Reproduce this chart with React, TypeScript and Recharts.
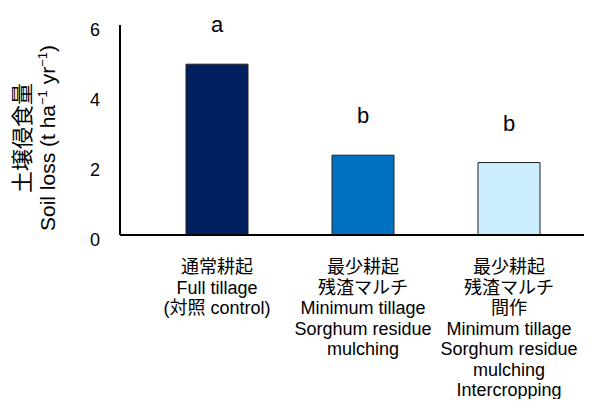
import { BarChart, Bar, XAxis, YAxis, Cell, LabelList } from "recharts";

const categories = ["full", "min", "minInter"];
const categoryLines = [
  ["通常耕起", "Full tillage", "(対照 control)"],
  ["最少耕起", "残渣マルチ", "Minimum tillage", "Sorghum residue", "mulching"],
  ["最少耕起", "残渣マルチ", "間作", "Minimum tillage", "Sorghum residue", "mulching", "Intercropping"],
];
const soilLoss = [4.88, 2.28, 2.07];
const letters = ["a", "b", "b"];
const barColors = ["#002060", "#0070C0", "#CCECFF"];
const yTicks = [0, 2, 4, 6];

const FONT = "'Liberation Sans', Arial, 'Noto Sans CJK JP', sans-serif";

const data = categories.map((c, i) => ({
  key: c,
  value: soilLoss[i],
  letter: letters[i],
}));

function XTick(props: any) {
  const { x, y, index } = props;
  const lines = categoryLines[index] || [];
  return (
    <text x={x} y={y} textAnchor="middle" fontSize={18} fill="#000" fontFamily={FONT}>
      {lines.map((l, i) => (
        <tspan key={i} x={x} y={y + 30 + i * 20.5} fill="#000">
          {l}
        </tspan>
      ))}
    </text>
  );
}

function YTick(props: any) {
  const { y, payload } = props;
  return (
    <text x={100} y={y + 5} dy="0.355em" textAnchor="end" fontSize={18} fill="#000" fontFamily={FONT}>
      {payload.value}
    </text>
  );
}

function YTitle() {
  const cy = 138;
  return (
    <g fontFamily={FONT}>
      <text transform={`translate(30, ${cy}) rotate(-90)`} textAnchor="middle" fontSize={22} fill="#000">
        土壌侵食量
      </text>
      <text transform={`translate(55, ${cy}) rotate(-90)`} textAnchor="middle" fontSize={21} fill="#000">
        <tspan>Soil loss (t ha</tspan>
        <tspan dy={-8} fontSize={13}>−1</tspan>
        <tspan dy={8}> yr</tspan>
        <tspan dy={-8} fontSize={13}>−1</tspan>
        <tspan dy={8}>)</tspan>
      </text>
    </g>
  );
}

function LetterLabel(props: any) {
  const { x, y, width, value } = props;
  return (
    <text x={x + width / 2} y={y - 32} textAnchor="middle" fontSize={22} fill="#000" fontFamily={FONT}>
      {value}
    </text>
  );
}

export default function App() {
  return (
    <div style={{ margin: -8, width: 592, height: 407, background: "#fff" }}>
      <BarChart width={592} height={407} data={data} margin={{ top: 25, right: 2, left: 0, bottom: 0 }}>
        <XAxis
          dataKey="key"
          height={172}
          axisLine={{ stroke: "#000", strokeWidth: 2 }}
          tickLine={false}
          tick={<XTick />}
          interval={0}
          padding={{ left: 24, right: 8 }}
        />
        <YAxis
          width={120}
          domain={[0, 6]}
          ticks={yTicks}
          axisLine={{ stroke: "#000", strokeWidth: 2 }}
          tickLine={false}
          tick={<YTick />}
          label={<YTitle />}
        />
        <Bar dataKey="value" barSize={62} stroke="#222" strokeWidth={1} isAnimationActive={false}>
          {data.map((d, i) => (
            <Cell key={d.key} fill={barColors[i]} />
          ))}
          <LabelList dataKey="letter" content={<LetterLabel />} />
        </Bar>
      </BarChart>
    </div>
  );
}
